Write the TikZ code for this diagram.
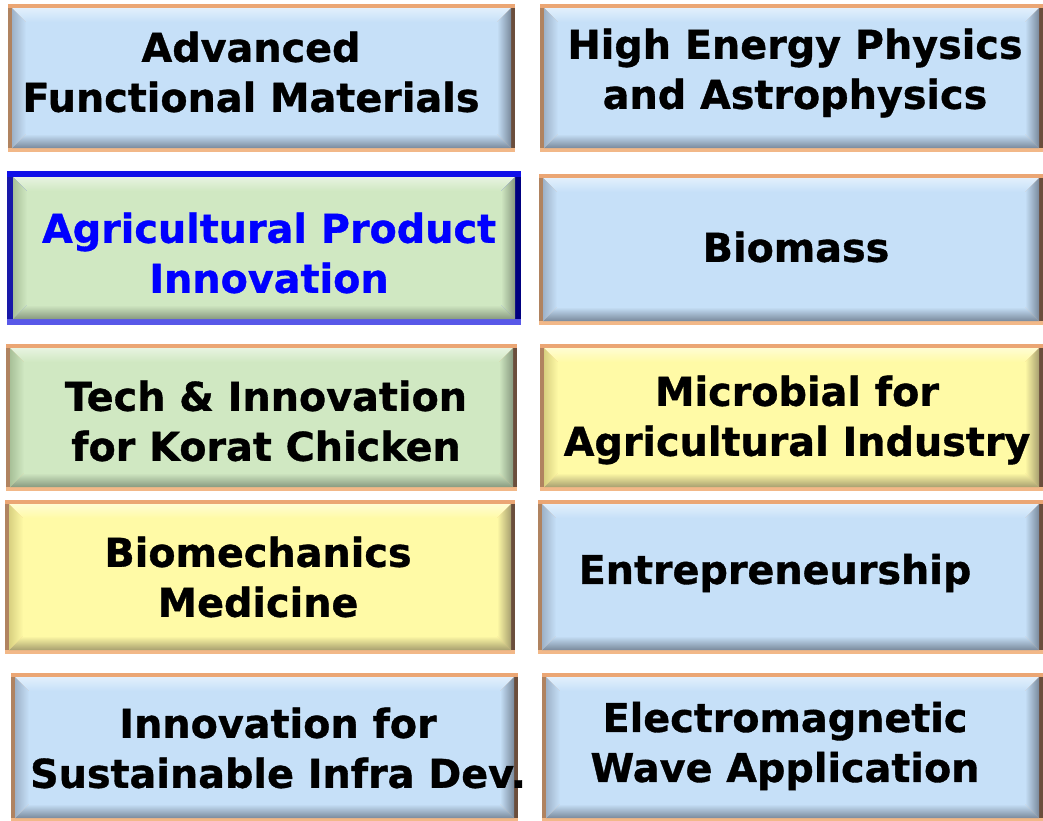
\documentclass[tikz,border=0pt]{standalone}
\usepackage{fontspec}
\setmainfont{DejaVu Sans}[BoldFeatures={FakeBold=0.9}]
\definecolor{bordT}{HTML}{EBA674}
\definecolor{bordB}{HTML}{F2B888}
\definecolor{bordL}{HTML}{B08360}
\definecolor{bordR}{HTML}{6B4E3C}
\definecolor{faceB}{HTML}{C6E0F8}
\definecolor{lftB}{HTML}{9EB2C8}
\definecolor{dkB}{HTML}{7A8A9C}
\definecolor{faceG}{HTML}{D0E8C2}
\definecolor{lftG}{HTML}{A8C098}
\definecolor{dkG}{HTML}{889A80}
\definecolor{faceY}{HTML}{FFFAA6}
\definecolor{lftY}{HTML}{D8D080}
\definecolor{dkY}{HTML}{A8A070}
\definecolor{blT}{HTML}{1010E8}
\definecolor{blB}{HTML}{5858E8}
\definecolor{blL}{HTML}{1818A8}
\definecolor{blR}{HTML}{000080}
\definecolor{txtBlue}{HTML}{0000FF}
\newcommand\schemeB{\colorlet{cface}{faceB}\colorlet{clft}{lftB}\colorlet{cdk}{dkB}}
\newcommand\schemeG{\colorlet{cface}{faceG}\colorlet{clft}{lftG}\colorlet{cdk}{dkG}}
\newcommand\schemeY{\colorlet{cface}{faceY}\colorlet{clft}{lftY}\colorlet{cdk}{dkY}}
\newcommand\bordO{\colorlet{cbT}{bordT}\colorlet{cbB}{bordB}\colorlet{cbL}{bordL}\colorlet{cbR}{bordR}\def\bt{4}}
\newcommand\bordBl{\colorlet{cbT}{blT}\colorlet{cbB}{blB}\colorlet{cbL}{blL}\colorlet{cbR}{blR}\def\bt{6}}
\def\bw{14}
% #1 scheme letter, #2 border macro, #3 x1, #4 y1, #5 x2, #6 y2
\newcommand\bevbox[6]{%
  \csname scheme#1\endcsname #2%
  \pgfmathsetmacro\xa{#3+\bt}\pgfmathsetmacro\ya{#4+\bt}%
  \pgfmathsetmacro\xb{#5-\bt}\pgfmathsetmacro\yb{#6-\bt}%
  \pgfmathsetmacro\xai{\xa+\bw}\pgfmathsetmacro\yai{\ya+\bw}%
  \pgfmathsetmacro\xbi{\xb-\bw}\pgfmathsetmacro\ybi{\yb-\bw}%
  \fill[cbT] (#3,#4) rectangle (#5,{(#4+#6)/2});
  \fill[cbB] (#3,{(#4+#6)/2}) rectangle (#5,#6);
  \fill[cbL] (#3,\ya) rectangle (\xa,\yb);
  \fill[cbR] (\xb,\ya) rectangle (#5,\yb);
  \shade[top color=cface!50!white, middle color=white, bottom color=cface]
    (\xa,\ya) -- (\xb,\ya) -- (\xbi,\yai) -- (\xai,\yai) -- cycle;
  \shade[top color=cface, bottom color=cdk]
    (\xa,\yb) -- (\xb,\yb) -- (\xbi,\ybi) -- (\xai,\ybi) -- cycle;
  \shade[left color=clft, right color=cface]
    (\xa,\ya) -- (\xai,\yai) -- (\xai,\ybi) -- (\xa,\yb) -- cycle;
  \shade[left color=cface, right color=cdk]
    (\xb,\ya) -- (\xbi,\yai) -- (\xbi,\ybi) -- (\xb,\yb) -- cycle;
  \fill[cface] (\xai,\yai) rectangle (\xbi,\ybi);
}
\begin{document}
\begin{tikzpicture}[x=1pt,y=-1pt,
  lbl/.style={font=\fontsize{39.7}{50}\selectfont\bfseries, align=center, inner sep=0pt, text=black}]
\useasboundingbox (0,0) rectangle (1043,820);
\fill[white] (0,0) rectangle (1043,820);
% row 1
\bevbox{B}{\bordO}{8}{4}{515}{152}
\bevbox{B}{\bordO}{540}{4}{1043}{152}
% row 2
\bevbox{G}{\bordBl}{7}{171}{521}{325}
\bevbox{B}{\bordO}{539}{174}{1043}{325}
% row 3
\bevbox{G}{\bordO}{6}{344}{517}{491}
\bevbox{Y}{\bordO}{540}{344}{1043}{491}
% row 4
\bevbox{Y}{\bordO}{5}{500}{515}{654}
\bevbox{B}{\bordO}{538}{500}{1043}{654}
% row 5
\bevbox{B}{\bordO}{11}{673}{518}{822}
\bevbox{B}{\bordO}{542}{673}{1043}{822}

\node[lbl] (afm) at (251,72) {Advanced\\Functional Materials};
\node[lbl] (hep) at (795,73) {High Energy Physics\\and Astrophysics};
\node[lbl, text=txtBlue] (api) at (269,253) {Agricultural Product\\Innovation};
\node[lbl] (bio) at (796,247) {Biomass};
\node[lbl] (tik) at (266,421) {Tech \& Innovation\\for Korat Chicken};
\node[lbl] (mai) at (797,420) {Microbial for\\Agricultural Industry};
\node[lbl] (bmm) at (258,577) {Biomechanics\\Medicine};
\node[lbl] (ent) at (775,573) {Entrepreneurship};
\node[lbl] (isi) at (278,748) {Innovation for\\Sustainable Infra Dev.};
\node[lbl] (ewa) at (785,746) {Electromagnetic\\Wave Application};
\end{tikzpicture}
\end{document}
